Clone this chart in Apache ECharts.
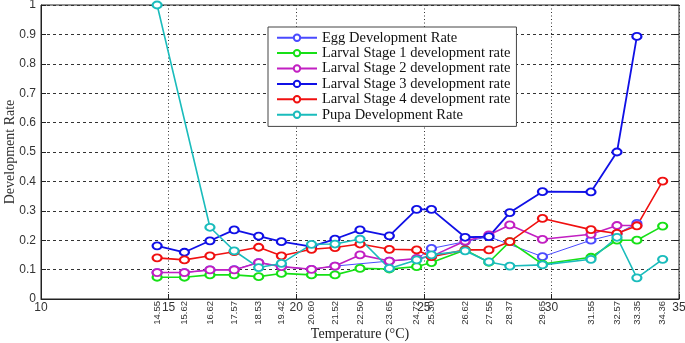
<!DOCTYPE html>
<html>
<head>
<meta charset="utf-8">
<script src="https://cdn.jsdelivr.net/npm/echarts@6/dist/echarts.min.js"></script>
<style>
  html, body, #main { width: 685px; height: 343px; margin: 0; background: #fff; }
</style>
</head>
<body>
<div id="main"></div>
<script>
// temperatures where rates were measured
var temps = [14.55, 15.62, 16.62, 17.57, 18.53, 19.42, 20.60, 21.52, 22.50, 23.65,
             24.72, 25.30, 26.62, 27.55, 28.37, 29.65, 31.55, 32.57, 33.35, 34.36];
var tempLabels = ['14.55', '15.62', '16.62', '17.57', '18.53', '19.42', '20.60', '21.52', '22.50', '23.65',
                  '24.72', '25.30', '26.62', '27.55', '28.37', '29.65', '31.55', '32.57', '33.35', '34.36'];

var eggRate    = [0.09, 0.09, 0.099, 0.10, 0.124, 0.11, 0.101, 0.112, null, 0.129,
                  0.136, 0.172, 0.195, 0.212, null, 0.144, 0.20, 0.222, 0.257, null];
var larva1Rate = [0.074, 0.074, 0.082, 0.082, 0.076, 0.087, 0.082, 0.082, 0.104, 0.102,
                  0.11, 0.124, 0.167, 0.125, 0.195, 0.119, 0.142, 0.20, 0.20, 0.248];
var larva2Rate = [0.09, 0.09, 0.099, 0.099, 0.124, 0.11, 0.101, 0.112, 0.15, 0.129,
                  0.138, 0.145, 0.197, 0.218, 0.252, 0.203, 0.22, 0.25, 0.25, null];
var larva3Rate = [0.181, 0.159, 0.198, 0.235, 0.214, 0.195, 0.178, 0.204, 0.235, 0.215,
                  0.305, 0.305, 0.21, 0.212, 0.294, 0.365, 0.364, 0.50, 0.893, null];
var larva4Rate = [0.14, 0.133, 0.147, 0.161, 0.176, 0.147, 0.169, 0.175, 0.187, 0.169,
                  0.167, 0.144, 0.167, 0.167, 0.195, 0.274, 0.236, 0.223, 0.249, 0.401];
var pupaRate   = [1.0, null, 0.244, 0.164, 0.107, 0.121, 0.186, 0.187, 0.204, 0.104,
                  0.133, 0.15, 0.164, 0.126, 0.112, 0.116, 0.135, 0.21, 0.072, 0.135];

var chart = echarts.init(document.getElementById('main'));

function pairs(vals) {
    return temps.map(function (t, i) { return [t, vals[i]]; });
}

function mkSeries(name, vals, color, width) {
    return {
        name: name,
        type: 'line',
        data: pairs(vals),
        connectNulls: true,
        symbol: 'emptyCircle',
        symbolSize: [9, 7],
        color: color,
        lineStyle: { color: color, width: width },
        itemStyle: { color: color, borderColor: color, borderWidth: 1.2 },
        animation: false
    };
}

var serif = 'Liberation Serif';
var sans = 'Liberation Sans';

var option = {
    backgroundColor: '#fff',
    animation: false,
    grid: {
        left: 41, right: 6, top: 5, bottom: 44,
        containLabel: false,
        outerBoundsMode: 'none',
        show: true, borderColor: '#222', borderWidth: 1
    },
    legend: {
        orient: 'vertical',
        left: 268, top: 27,
        padding: [3, 6, 4, 8],
        backgroundColor: '#fff',
        borderColor: '#444',
        borderWidth: 1,
        itemWidth: 40,
        itemHeight: 8,
        itemGap: 0,
        textStyle: { fontFamily: serif, fontSize: 14.5, color: '#111', lineHeight: 15.4 }
    },
    xAxis: [{
        type: 'value',
        min: 10, max: 35, interval: 5,
        name: 'Temperature (°C)',
        nameLocation: 'middle',
        nameGap: 28,
        nameTextStyle: { fontFamily: serif, fontSize: 14, color: '#222' },
        axisLine: { lineStyle: { color: '#222' } },
        axisTick: { inside: true, length: 5, lineStyle: { color: '#222' } },
        axisLabel: { fontFamily: sans, fontSize: 12, color: '#333', margin: 3 },
        splitLine: { show: true, lineStyle: { color: '#333', type: [1, 2.5] } }
    }, {
        type: 'value',
        position: 'bottom',
        min: 10, max: 35,
        axisLine: { show: false },
        axisTick: { show: false },
        splitLine: { show: false },
        axisLabel: {
            customValues: temps,
            rotate: 90,
            margin: 2,
            fontFamily: sans,
            fontSize: 9.5,
            color: '#333',
            formatter: function (v) {
                var i = temps.indexOf(v);
                return i >= 0 ? tempLabels[i] : '';
            }
        }
    }],
    yAxis: [{
        type: 'value',
        min: 0, max: 1, interval: 0.1,
        name: 'Development Rate',
        nameLocation: 'middle',
        nameGap: 24,
        nameMoveOverlap: false,
        nameTextStyle: { fontFamily: serif, fontSize: 14, color: '#333' },
        axisLine: { show: true, lineStyle: { color: '#222' } },
        axisTick: { show: true, inside: true, length: 5, lineStyle: { color: '#222' } },
        axisLabel: { fontFamily: sans, fontSize: 12, color: '#333', margin: 5 },
        splitLine: { show: true, lineStyle: { color: '#333', type: [3, 3] } }
    }, {
        type: 'value',
        position: 'right',
        min: 0, max: 1, interval: 0.1,
        axisLine: { show: false },
        axisTick: { show: true, inside: true, length: 5, lineStyle: { color: '#222' } },
        axisLabel: { show: false },
        splitLine: { show: false }
    }],
    series: [
        mkSeries('Egg Development Rate', eggRate, '#4a4aff', 1),
        mkSeries('Larval Stage 1 development rate', larva1Rate, '#16e016', 1.6),
        mkSeries('Larval Stage 2 development rate', larva2Rate, '#c21fc2', 1.6),
        mkSeries('Larval Stage 3 development rate', larva3Rate, '#1010e6', 1.8),
        mkSeries('Larval Stage 4 development rate', larva4Rate, '#f01010', 1.6),
        mkSeries('Pupa Development Rate', pupaRate, '#1abcbc', 1.6)
    ]
};

chart.setOption(option);
</script>
</body>
</html>
